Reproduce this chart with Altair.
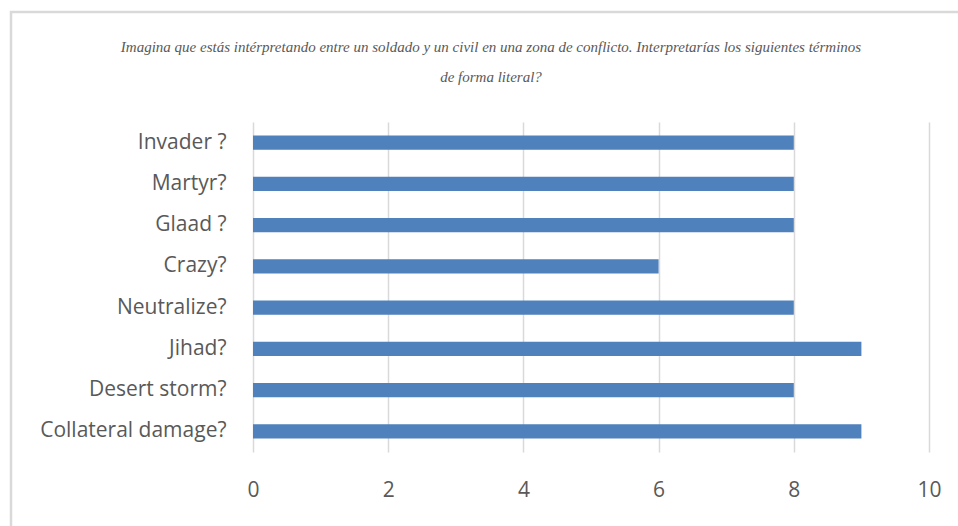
import altair as alt
import pandas as pd

categories = ["Invader ?", "Martyr?", "Glaad ?", "Crazy?", "Neutralize?", "Jihad?", "Desert storm?", "Collateral damage?"]
values = [8, 8, 8, 6, 8, 9, 8, 9]
x_ticks = [0, 2, 4, 6, 8, 10]
title_lines = [
    "Imagina que estás intérpretando entre un soldado y un civil en una zona de conflicto. Interpretarías los siguientes términos",
    "de forma literal?",
]

df = pd.DataFrame({"term": categories, "value": values})

base = alt.Chart(df)

border = base.mark_rect(fill=None, stroke="#D9D9D9", strokeWidth=2.5).encode(
    x=alt.value(-242), x2=alt.value(760), y=alt.value(-110), y2=alt.value(440)
).transform_filter(alt.datum.term == categories[0])

label_font = "Open Sans"

bars = base.mark_bar(color="#4F81BD").encode(
    x=alt.X("value:Q", scale=alt.Scale(domain=[0, 10]),
            axis=alt.Axis(values=x_ticks, title=None, grid=True, gridColor="#D9D9D9",
                          gridWidth=1.5, domain=False, ticks=False, labelFontSize=21,
                          labelColor="#595959", labelFont=label_font, labelPadding=27,
                          labelFlush=False, labelFontWeight="normal")),
    y=alt.Y("term:N", sort=categories, scale=alt.Scale(paddingInner=0.66, paddingOuter=0.33),
            axis=alt.Axis(title=None, domain=False, ticks=False, labelFontSize=21,
                          labelColor="#595959", labelFont=label_font, labelPadding=27,
                          labelFontWeight="normal", labelLimit=400)),
)

title = alt.Chart(pd.DataFrame({"t": [title_lines]})).mark_text(
    font="Liberation Serif", fontStyle="italic", fontSize=15, color="#595959",
    lineHeight=30, baseline="middle", align="center"
).encode(text="t:N", x=alt.value(238), y=alt.value(-75))

chart = alt.layer(border, bars, title).properties(
    width=676, height=330,
    padding={"left": 253, "top": 122, "right": 29, "bottom": 74},
    autosize=alt.AutoSizeParams(type="none"),
).configure_view(stroke=None)

chart.save("out.html", embed_options={"renderer": "svg", "actions": False})
